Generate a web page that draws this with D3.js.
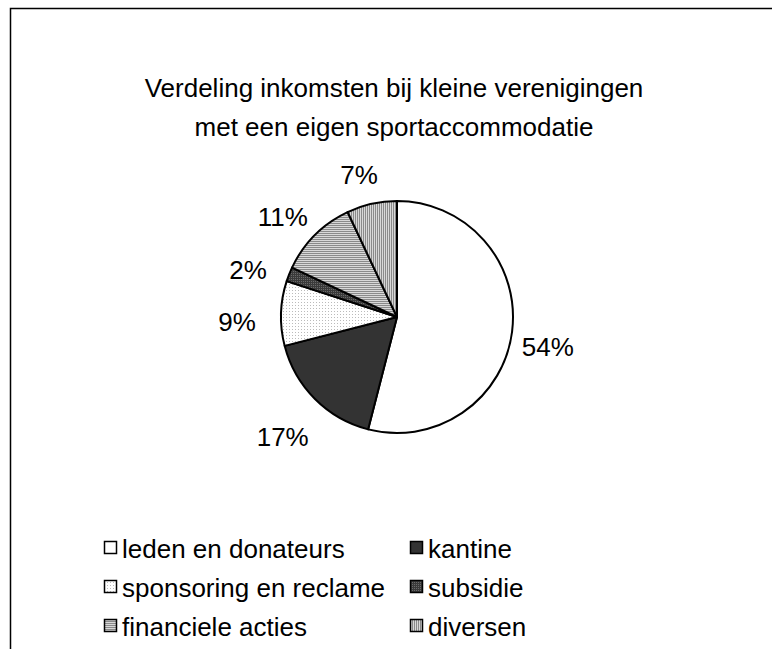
<!DOCTYPE html>
<html>
<head>
<meta charset="utf-8">
<script src="https://cdn.jsdelivr.net/npm/d3@7"></script>
<style>
	body { margin: 0; background: #fff; }
	svg text { font-family: "Liberation Sans", Arial, sans-serif; fill: #000; }
</style>
</head>
<body>
<div class="chart"></div>
<script>
var categories = ['leden en donateurs', 'kantine', 'sponsoring en reclame', 'subsidie', 'financiele acties', 'diversen'];
var values = [54, 17, 9, 2, 11, 7];
var labels = ['54%', '17%', '9%', '2%', '11%', '7%'];
var titleLines = ['Verdeling inkomsten bij kleine verenigingen', 'met een eigen sportaccommodatie'];

var width = 772;
var height = 649;
var fontSize = 26;

var svg = d3.select('.chart').append('svg')
	.attr('width', width)
	.attr('height', height);

var defs = svg.append('defs');

// fill patterns, one per slice
function makePattern(id, w, h, bg, draw) {
	var p = defs.append('pattern')
		.attr('id', id)
		.attr('patternUnits', 'userSpaceOnUse')
		.attr('width', w)
		.attr('height', h);
	p.append('rect').attr('width', w).attr('height', h).attr('fill', bg);
	draw(p);
}
makePattern('p-dots', 3, 3, '#ffffff', function(p) {
	p.append('rect').attr('x', 0).attr('y', 0).attr('width', 1).attr('height', 1).attr('fill', '#bbbbbb');
});
makePattern('p-darkdots', 2, 2, '#3a3a3a', function(p) {
	p.append('rect').attr('x', 0).attr('y', 0).attr('width', 1).attr('height', 1).attr('fill', '#6a6a6a');
});
makePattern('p-hstripes', 2, 2, '#d8d8d8', function(p) {
	p.append('rect').attr('x', 0).attr('y', 0).attr('width', 2).attr('height', 1).attr('fill', '#8a8a8a');
});
makePattern('p-vstripes', 2, 2, '#d8d8d8', function(p) {
	p.append('rect').attr('x', 0).attr('y', 0).attr('width', 1).attr('height', 2).attr('fill', '#8a8a8a');
});

var fills = ['#ffffff', '#333333', 'url(#p-dots)', 'url(#p-darkdots)', 'url(#p-hstripes)', 'url(#p-vstripes)'];

// outer frame (only top and left edge visible)
svg.append('path')
	.attr('d', 'M10.5,' + height + 'V8.5H' + width)
	.attr('fill', 'none')
	.attr('stroke', '#000')
	.attr('stroke-width', 1.5);

// title
svg.append('g')
	.attr('class', 'title')
	.selectAll('text')
	.data(titleLines)
	.enter().append('text')
	.attr('x', 394)
	.attr('y', function(d, i) { return 97 + i * 39; })
	.attr('text-anchor', 'middle')
	.attr('font-size', fontSize)
	.text(function(d) { return d; });

// pie
var cx = 397, cy = 317, radius = 116;
var pie = d3.pie().sort(null).value(function(d) { return d; });
var arc = d3.arc().innerRadius(0).outerRadius(radius);
var labelArc = d3.arc().innerRadius(156).outerRadius(156);
var arcs = pie(values);

var chart = svg.append('g')
	.attr('transform', 'translate(' + cx + ',' + cy + ')');

chart.selectAll('path.slice')
	.data(arcs)
	.enter().append('path')
	.attr('class', 'slice')
	.attr('d', arc)
	.attr('fill', function(d, i) { return fills[i]; })
	.attr('stroke', '#000')
	.attr('stroke-width', 2)
	.attr('stroke-linejoin', 'round');

chart.selectAll('text.pct')
	.data(arcs)
	.enter().append('text')
	.attr('class', 'pct')
	.attr('x', function(d) { return labelArc.centroid(d)[0] - 4; })
	.attr('y', function(d) { return labelArc.centroid(d)[1] + 10; })
	.attr('dy', '0.35em')
	.attr('text-anchor', 'middle')
	.attr('font-size', fontSize)
	.text(function(d, i) { return labels[i]; });

// legend, two columns
var legend = svg.append('g').attr('class', 'legend');
var items = legend.selectAll('g')
	.data(categories)
	.enter().append('g')
	.attr('transform', function(d, i) {
		var col = i % 2, row = Math.floor(i / 2);
		return 'translate(' + (col === 0 ? 104 : 410) + ',' + (549 + row * 39) + ')';
	});
items.append('rect')
	.attr('x', 0.5)
	.attr('y', -7.5)
	.attr('width', 12)
	.attr('height', 12)
	.attr('fill', function(d, i) { return fills[i]; })
	.attr('stroke', '#000')
	.attr('stroke-width', 1.5);
items.append('text')
	.attr('x', 18)
	.attr('y', 0)
	.attr('dy', '0.35em')
	.attr('font-size', fontSize)
	.text(function(d) { return d; });
</script>
</body>
</html>
